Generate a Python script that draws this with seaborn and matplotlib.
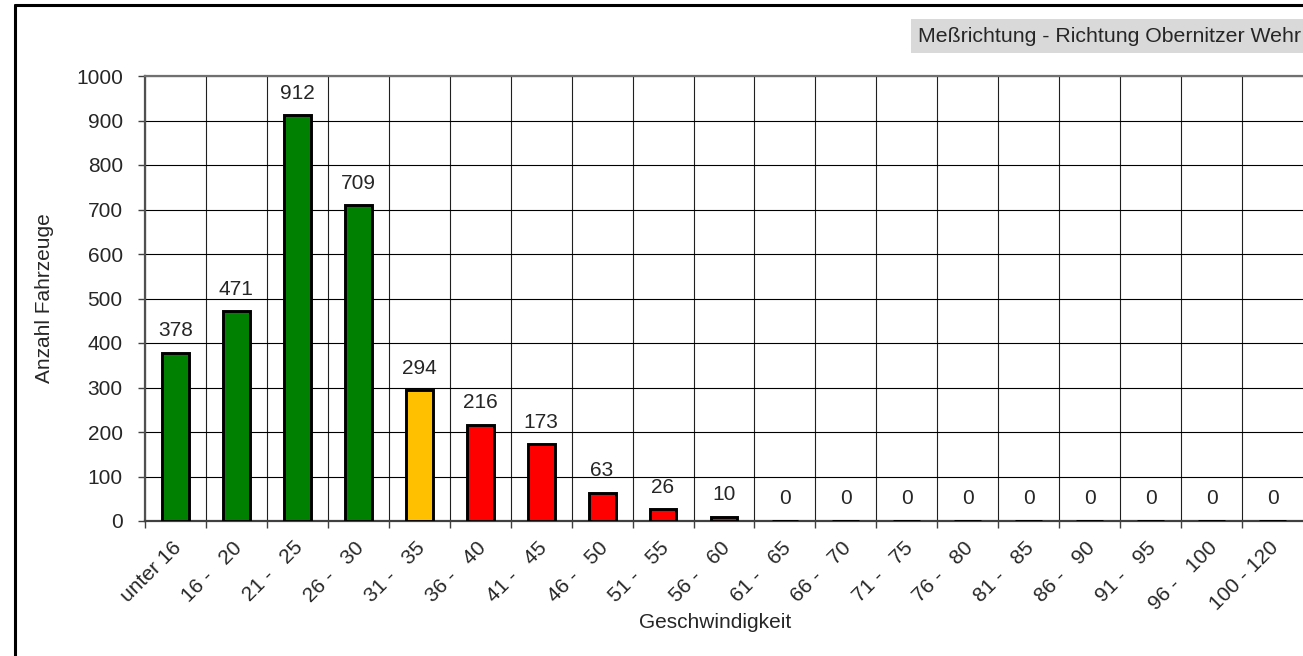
import numpy as np
import pandas as pd
import seaborn as sb
import matplotlib.pyplot as plt
from matplotlib.lines import Line2D
from matplotlib.transforms import ScaledTranslation

# Geschwindigkeitsklassen und Anzahl Fahrzeuge
klassen = ["unter 16", "16 -   20", "21 -   25", "26 -   30", "31 -   35", "36 -   40",
           "41 -   45", "46 -   50", "51 -   55", "56 -   60", "61 -   65", "66 -   70",
           "71 -   75", "76 -   80", "81 -   85", "86 -   90", "91 -   95", "96 -   100",
           "100 - 120"]
anzahl = [378, 471, 912, 709, 294, 216, 173, 63, 26, 10, 0, 0, 0, 0, 0, 0, 0, 0, 0]
farben = ["#008000"] * 4 + ["#FFC000"] + ["#FF0000"] * 14
y_ticks = list(range(0, 1001, 100))

sb.set_style("white")
plt.rcParams['font.family'] = ['Liberation Sans', 'DejaVu Sans']

df = pd.DataFrame({"Geschwindigkeit": klassen, "Anzahl": anzahl})

fig = plt.figure(figsize=(13.03, 6.56), dpi=100)
ax = fig.add_axes([145 / 1303, 135 / 656, 1158 / 1303, 445 / 656])

sb.barplot(data=df, x="Geschwindigkeit", y="Anzahl", hue="Geschwindigkeit",
           palette=farben, legend=False, width=0.44, edgecolor="black",
           linewidth=2.1, saturation=1, ax=ax, zorder=3)

ax.set_ylim(0, 1000)
ax.set_xlim(-0.5, len(klassen) - 0.5)
ax.set_yticks(y_ticks)
ax.set_xticks(np.arange(len(klassen)))
ax.set_xticks(np.arange(len(klassen)) - 0.5, minor=True)
ax.set_xticklabels(klassen, rotation=45, ha="right", va="center", rotation_mode="anchor")

ax.tick_params(axis="x", which="major", length=0, pad=17, labelsize=15)
ax.tick_params(axis="x", which="minor", length=5, width=1, color="#404040", direction="out")
ax.tick_params(axis="y", length=5, width=1, color="#404040", direction="out", labelsize=15, pad=11)
ax.tick_params(bottom=True, left=True)
ax.xaxis.set_tick_params(which="minor", bottom=True)

# Beschriftungen etwas nach rechts schieben
verschiebung = ScaledTranslation(2 / 72, 0, fig.dpi_scale_trans)
for lbl in ax.get_xticklabels():
    lbl.set_transform(lbl.get_transform() + verschiebung)

ax.grid(axis="y", color="black", linewidth=0.8, zorder=0)
ax.grid(axis="x", which="minor", color="#202020", linewidth=0.8, zorder=0)
ax.grid(axis="x", which="major", visible=False)
ax.set_axisbelow(True)

for side in ["top", "left", "bottom"]:
    ax.spines[side].set_color("#707070")
    ax.spines[side].set_linewidth(1.6)
ax.spines["left"].set_color("#505050")
ax.spines["bottom"].set_color("#404040")
ax.spines["right"].set_visible(False)

for i, v in enumerate(anzahl):
    ax.annotate(str(v), (i, v), xytext=(0, 9), textcoords="offset points",
                ha="center", va="bottom", fontsize=15)

ax.set_xlabel("Geschwindigkeit", fontsize=15)
ax.set_ylabel("Anzahl Fahrzeuge", fontsize=15)
ax.xaxis.set_label_coords(0.492, -0.206)
ax.yaxis.set_label_coords(-0.0786, 0.5)

# Rahmen um das Diagramm
fig.add_artist(Line2D([15 / 1303, 15 / 1303], [0, 651 / 656], color="black", lw=2.2))
fig.add_artist(Line2D([15 / 1303, 1], [651 / 656, 651 / 656], color="black", lw=2.2))

fig.text(918 / 1303, 620 / 656, "Meßrichtung - Richtung Obernitzer Wehr", fontsize=15.3,
         ha="left", va="center",
         bbox=dict(facecolor="#D9D9D9", edgecolor="none", boxstyle="square,pad=0.35"))

fig.savefig("out.png", dpi=100)
